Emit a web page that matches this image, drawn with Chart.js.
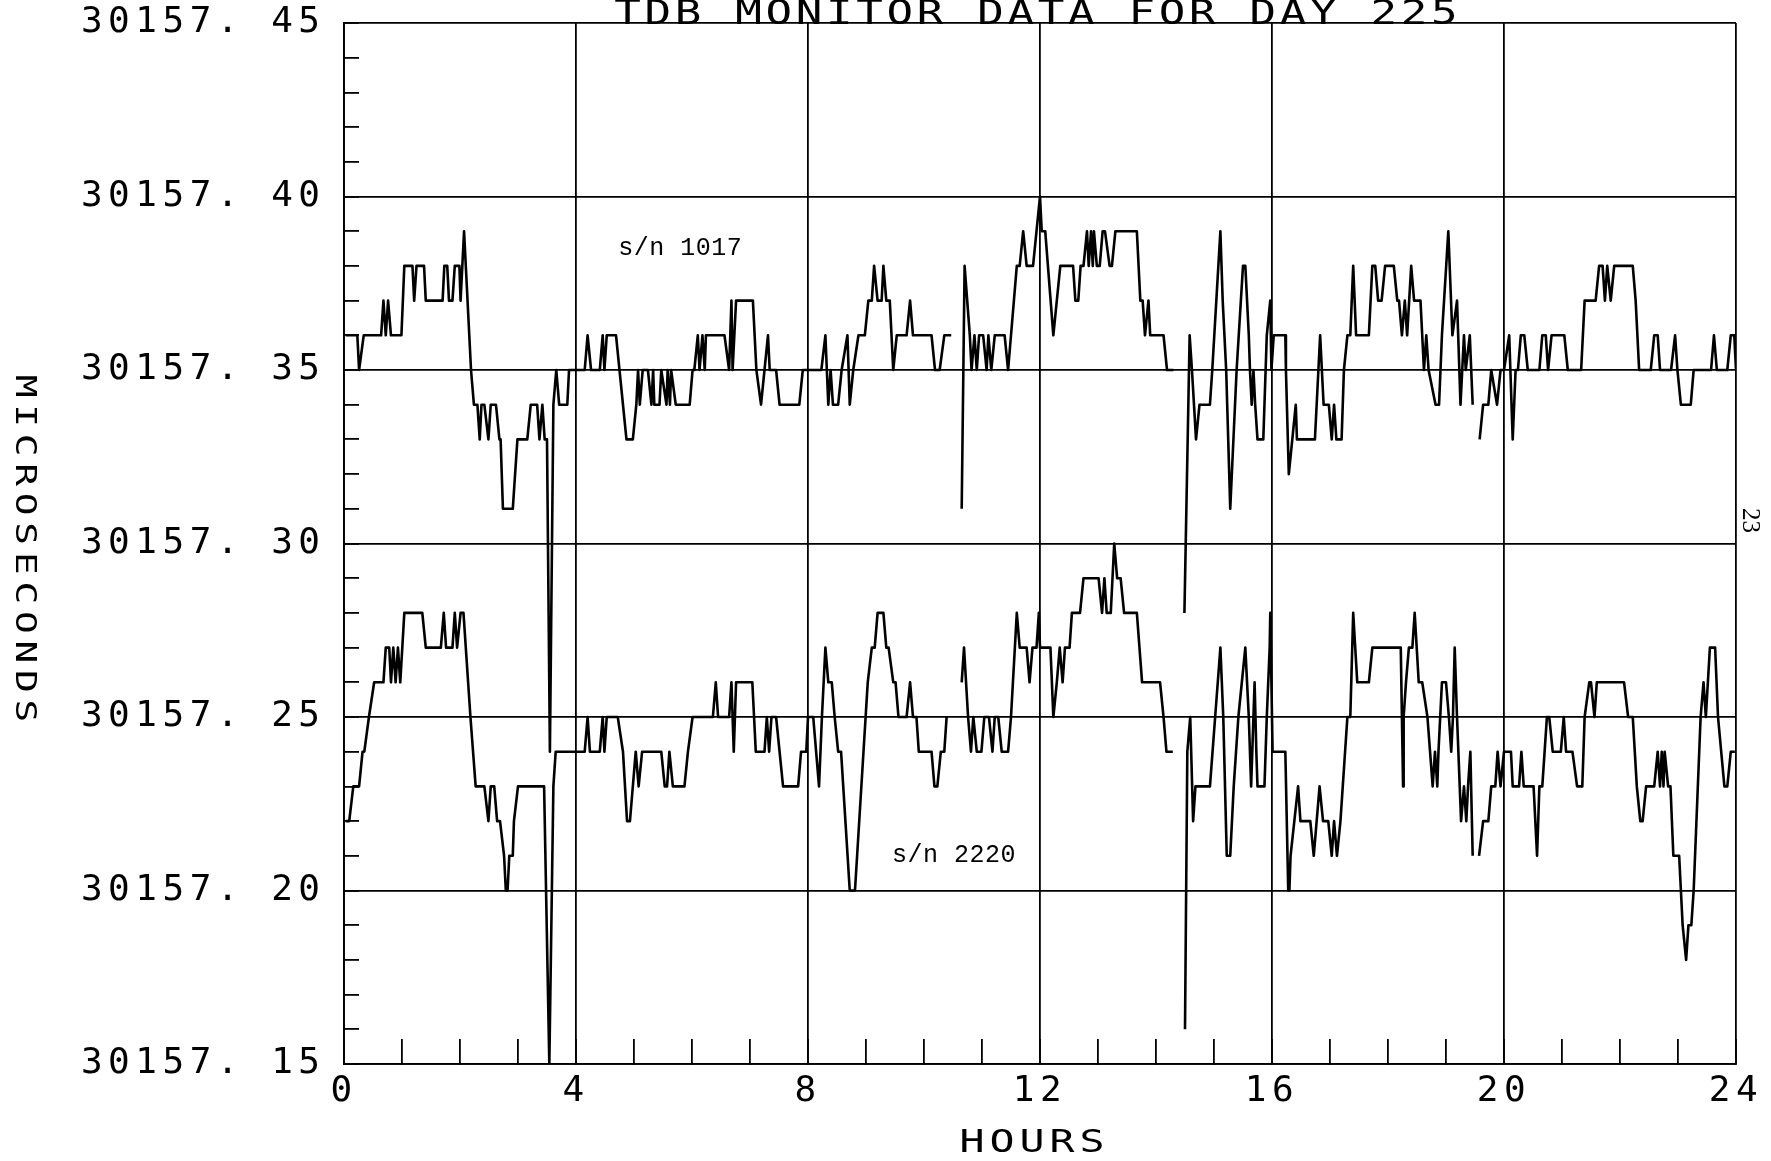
<!DOCTYPE html>
<html>
<head>
<meta charset="utf-8">
<title>TDB monitor data for day 225</title>
<script src="https://cdn.jsdelivr.net/npm/chart.js@4.4.1/dist/chart.umd.min.js"></script>
<style>
  html, body { margin: 0; padding: 0; background: #fff; }
  #sheet { position: relative; width: 1771px; height: 1161px; }
</style>
</head>
<body>
<div id="sheet"><canvas id="tdb" width="1771" height="1161"></canvas></div>
<script>
/* TDB monitor plot, day 225: two clocks (s/n 1017, s/n 2220), readings in
 * microseconds against hour of day. Pairs are [hour, reading]; a null
 * reading marks a break in the record. */

var TITLE = "TDB MONITOR DATA FOR DAY 225";
var X_TITLE = "HOURS";
var Y_TITLE = "MICROSECONDS";
var PAGE_NO = "23";

var X_MIN = 0, X_MAX = 24, X_STEP = 1, X_MAJOR = 4;
var Y_MIN = 30157.15, Y_MAX = 30157.45, Y_STEP = 0.01, Y_MAJOR = 0.05;

// series labels, placed in data units
var TAGS = [
  { text: "s/n 1017", hour: 4.73, value: 30157.385 },
  { text: "s/n 2220", hour: 9.45, value: 30157.210 }
];

var sn1017 = [
  [0.03,30157.36],[0.23,30157.36],[0.26,30157.35],[0.34,30157.36],[0.64,30157.36],[0.68,30157.37],
  [0.72,30157.36],[0.76,30157.37],[0.81,30157.36],[0.99,30157.36],[1.04,30157.38],[1.18,30157.38],
  [1.21,30157.37],[1.25,30157.38],[1.38,30157.38],[1.41,30157.37],[1.70,30157.37],[1.73,30157.38],
  [1.78,30157.38],[1.81,30157.37],[1.87,30157.37],[1.91,30157.38],[1.99,30157.38],[2.01,30157.37],
  [2.07,30157.39],[2.10,30157.38],[2.19,30157.35],[2.24,30157.34],[2.30,30157.34],[2.34,30157.33],
  [2.37,30157.34],[2.42,30157.34],[2.49,30157.33],[2.53,30157.34],[2.62,30157.34],[2.68,30157.33],
  [2.70,30157.33],[2.74,30157.31],[2.91,30157.31],[2.99,30157.33],[3.16,30157.33],[3.22,30157.34],
  [3.33,30157.34],[3.37,30157.33],[3.42,30157.34],[3.46,30157.33],[3.50,30157.33],[3.55,30157.24],
  [3.61,30157.34],[3.66,30157.35],[3.71,30157.34],[3.85,30157.34],[3.88,30157.35],[4.00,30157.35],
  [4.15,30157.35],[4.20,30157.36],[4.26,30157.35],[4.41,30157.35],[4.46,30157.36],[4.49,30157.35],
  [4.53,30157.36],[4.69,30157.36],[4.75,30157.35],[4.87,30157.33],[4.98,30157.33],[5.04,30157.34],
  [5.07,30157.35],[5.10,30157.34],[5.15,30157.35],[5.24,30157.35],[5.30,30157.34],[5.33,30157.35],
  [5.35,30157.34],[5.44,30157.34],[5.47,30157.35],[5.56,30157.34],[5.58,30157.35],[5.62,30157.34],
  [5.64,30157.35],[5.72,30157.34],[5.96,30157.34],[6.01,30157.35],[6.04,30157.35],[6.10,30157.36],
  [6.13,30157.35],[6.18,30157.36],[6.22,30157.35],[6.24,30157.36],[6.30,30157.36],[6.56,30157.36],
  [6.64,30157.35],[6.68,30157.37],[6.70,30157.35],[6.76,30157.37],[7.05,30157.37],[7.11,30157.35],
  [7.19,30157.34],[7.25,30157.35],[7.31,30157.36],[7.34,30157.35],[7.45,30157.35],[7.51,30157.34],
  [7.85,30157.34],[7.91,30157.35],[8.00,30157.35],
  [8.23,30157.35],[8.30,30157.36],[8.35,30157.34],[8.39,30157.35],[8.43,30157.34],[8.52,30157.34],
  [8.58,30157.35],[8.68,30157.36],[8.72,30157.34],[8.78,30157.35],[8.87,30157.36],[8.98,30157.36],
  [9.04,30157.37],[9.10,30157.37],[9.14,30157.38],[9.20,30157.37],[9.27,30157.37],[9.30,30157.38],
  [9.35,30157.37],[9.41,30157.37],[9.47,30157.35],[9.53,30157.36],[9.70,30157.36],[9.76,30157.37],
  [9.81,30157.36],[10.13,30157.36],[10.19,30157.35],[10.27,30157.35],[10.35,30157.36],[10.47,30157.36],
  [10.56,null],
  [10.65,30157.31],[10.70,30157.38],[10.79,30157.36],[10.82,30157.35],[10.87,30157.36],[10.91,30157.35],
  [10.95,30157.36],[11.02,30157.36],[11.08,30157.35],[11.11,30157.36],[11.16,30157.35],[11.22,30157.36],
  [11.39,30157.36],[11.45,30157.35],[11.60,30157.38],[11.65,30157.38],[11.71,30157.39],[11.77,30157.38],
  [11.88,30157.38],[11.94,30157.39],[12.00,30157.40],
  [12.03,30157.39],[12.09,30157.39],[12.23,30157.36],[12.35,30157.38],[12.57,30157.38],[12.61,30157.37],
  [12.66,30157.37],[12.70,30157.38],[12.75,30157.38],[12.81,30157.39],[12.84,30157.38],[12.88,30157.39],
  [12.91,30157.38],[12.93,30157.39],[12.98,30157.38],[13.03,30157.38],[13.08,30157.39],[13.12,30157.39],
  [13.20,30157.38],[13.24,30157.38],[13.30,30157.39],[13.67,30157.39],[13.73,30157.37],[13.77,30157.37],
  [13.81,30157.36],[13.87,30157.37],[13.90,30157.36],[14.13,30157.36],[14.19,30157.35],[14.30,30157.35],
  [14.39,null],
  [14.49,30157.28],[14.58,30157.36],[14.62,30157.35],[14.69,30157.33],[14.75,30157.34],[14.93,30157.34],
  [14.97,30157.35],[15.04,30157.37],[15.11,30157.39],[15.15,30157.37],[15.21,30157.35],[15.28,30157.31],
  [15.39,30157.35],[15.50,30157.38],[15.54,30157.38],[15.60,30157.36],[15.62,30157.35],[15.65,30157.34],
  [15.68,30157.35],[15.71,30157.34],[15.75,30157.33],[15.85,30157.33],[15.91,30157.36],[15.97,30157.37],
  [15.99,30157.35],[16.03,30157.36],[16.23,30157.36],[16.24,30157.35],[16.29,30157.32],[16.41,30157.34],
  [16.43,30157.33],[16.74,30157.33],[16.83,30157.36],[16.89,30157.34],[16.98,30157.34],[17.03,30157.33],
  [17.07,30157.34],[17.11,30157.33],[17.20,30157.33],[17.24,30157.35],[17.30,30157.36],[17.35,30157.36],
  [17.40,30157.38],[17.45,30157.36],[17.67,30157.36],[17.73,30157.38],[17.78,30157.38],[17.83,30157.37],
  [17.89,30157.37],[17.95,30157.38],[18.10,30157.38],[18.16,30157.37],[18.19,30157.37],[18.24,30157.36],
  [18.29,30157.37],[18.33,30157.36],[18.40,30157.38],[18.45,30157.37],[18.56,30157.37],[18.62,30157.35],
  [18.66,30157.36],[18.70,30157.35],[18.82,30157.34],[18.88,30157.34],[18.93,30157.36],[19.04,30157.39],
  [19.11,30157.36],[19.19,30157.37],[19.21,30157.36],[19.25,30157.34],[19.31,30157.36],[19.34,30157.35],
  [19.41,30157.36],[19.46,30157.34],
  [19.52,null],
  [19.58,30157.33],[19.64,30157.34],[19.73,30157.34],[19.78,30157.35],[19.88,30157.34],[19.94,30157.35],
  [20.00,30157.35],[20.09,30157.36],[20.15,30157.33],[20.20,30157.35],[20.24,30157.35],[20.29,30157.36],
  [20.35,30157.36],[20.41,30157.35],[20.61,30157.35],[20.66,30157.36],[20.72,30157.36],[20.76,30157.35],
  [20.82,30157.36],[21.04,30157.36],[21.10,30157.35],[21.33,30157.35],[21.39,30157.37],[21.58,30157.37],
  [21.64,30157.38],[21.70,30157.38],[21.74,30157.37],[21.78,30157.38],[21.84,30157.37],[21.90,30157.38],
  [22.22,30157.38],[22.27,30157.37],[22.33,30157.35],[22.53,30157.35],[22.59,30157.36],[22.65,30157.36],
  [22.69,30157.35],[22.88,30157.35],[22.95,30157.36],[22.99,30157.35],[23.05,30157.34],[23.22,30157.34],
  [23.27,30157.35],[23.57,30157.35],[23.62,30157.36],[23.67,30157.35],[23.85,30157.35],[23.91,30157.36],
  [23.97,30157.36],[24.00,30157.35]
];

var sn2220 = [
  [0.03,30157.22],[0.09,30157.22],[0.16,30157.23],[0.26,30157.23],[0.32,30157.24],[0.35,30157.24],
  [0.43,30157.25],[0.52,30157.26],[0.68,30157.26],[0.72,30157.27],[0.78,30157.27],[0.81,30157.26],
  [0.85,30157.27],[0.89,30157.26],[0.93,30157.27],[0.97,30157.26],[1.04,30157.28],[1.35,30157.28],
  [1.41,30157.27],[1.67,30157.27],[1.72,30157.28],[1.76,30157.27],[1.87,30157.27],[1.91,30157.28],
  [1.95,30157.27],[2.01,30157.28],[2.06,30157.28],[2.10,30157.27],[2.18,30157.25],[2.27,30157.23],
  [2.42,30157.23],[2.49,30157.22],[2.53,30157.23],[2.59,30157.23],[2.64,30157.22],[2.69,30157.22],
  [2.76,30157.21],[2.79,30157.20],[2.82,30157.20],[2.85,30157.21],[2.91,30157.21],[2.93,30157.22],
  [3.00,30157.23],[3.45,30157.23],[3.54,30157.15],[3.61,30157.23],[3.65,30157.24],[4.00,30157.24],
  [4.15,30157.24],[4.20,30157.25],[4.24,30157.24],[4.41,30157.24],[4.46,30157.25],[4.49,30157.24],
  [4.53,30157.25],[4.72,30157.25],[4.81,30157.24],[4.88,30157.22],[4.93,30157.22],[5.03,30157.24],
  [5.08,30157.23],[5.14,30157.24],[5.47,30157.24],[5.53,30157.23],[5.57,30157.23],[5.61,30157.24],
  [5.67,30157.23],[5.87,30157.23],[5.93,30157.24],[6.01,30157.25],[6.36,30157.25],[6.41,30157.26],
  [6.45,30157.25],[6.64,30157.25],[6.68,30157.26],[6.72,30157.24],[6.76,30157.26],[7.04,30157.26],
  [7.10,30157.24],[7.25,30157.24],[7.29,30157.25],[7.33,30157.24],[7.37,30157.25],[7.45,30157.25],
  [7.57,30157.23],[7.83,30157.23],[7.88,30157.24],[7.97,30157.24],[8.00,30157.25],
  [8.09,30157.25],[8.19,30157.23],[8.24,30157.25],[8.30,30157.27],[8.35,30157.26],[8.41,30157.26],
  [8.46,30157.25],[8.52,30157.24],[8.57,30157.24],[8.72,30157.20],[8.81,30157.20],[9.03,30157.26],
  [9.10,30157.27],[9.15,30157.27],[9.20,30157.28],[9.30,30157.28],[9.35,30157.27],[9.39,30157.27],
  [9.47,30157.26],[9.51,30157.26],[9.56,30157.25],[9.70,30157.25],[9.76,30157.26],[9.81,30157.25],
  [9.87,30157.25],[9.91,30157.24],[10.13,30157.24],[10.18,30157.23],[10.23,30157.23],[10.29,30157.24],
  [10.35,30157.24],[10.39,30157.25],
  [10.52,null],
  [10.65,30157.26],[10.69,30157.27],[10.76,30157.25],[10.81,30157.24],[10.85,30157.25],[10.91,30157.24],
  [10.99,30157.24],[11.04,30157.25],[11.12,30157.25],[11.18,30157.24],[11.22,30157.25],[11.28,30157.25],
  [11.34,30157.24],[11.45,30157.24],[11.50,30157.25],[11.60,30157.28],[11.65,30157.27],[11.77,30157.27],
  [11.82,30157.26],[11.87,30157.27],[11.94,30157.27],[11.98,30157.28],
  [12.00,30157.27],[12.18,30157.27],[12.23,30157.25],[12.29,30157.26],[12.34,30157.27],[12.39,30157.26],
  [12.43,30157.27],[12.51,30157.27],[12.55,30157.28],[12.69,30157.28],[12.75,30157.29],[13.01,30157.29],
  [13.07,30157.28],[13.11,30157.29],[13.15,30157.28],[13.22,30157.28],[13.28,30157.30],[13.33,30157.29],
  [13.39,30157.29],[13.45,30157.28],[13.67,30157.28],[13.76,30157.26],[14.07,30157.26],[14.13,30157.25],
  [14.18,30157.24],[14.29,30157.24],
  [14.40,null],
  [14.50,30157.16],[14.54,30157.24],[14.59,30157.25],[14.64,30157.22],[14.68,30157.23],[14.93,30157.23],
  [15.02,30157.25],[15.11,30157.27],[15.16,30157.25],[15.22,30157.21],[15.28,30157.21],[15.34,30157.23],
  [15.42,30157.25],[15.54,30157.27],[15.60,30157.25],[15.64,30157.23],[15.70,30157.26],[15.73,30157.24],
  [15.75,30157.23],[15.87,30157.23],[15.91,30157.25],[15.96,30157.27],
  [15.97,30157.28],[16.01,30157.24],[16.23,30157.24],[16.28,30157.20],[16.30,30157.20],[16.32,30157.21],
  [16.45,30157.23],[16.49,30157.22],[16.66,30157.22],[16.72,30157.21],[16.82,30157.23],[16.88,30157.22],
  [16.97,30157.22],[17.03,30157.21],[17.07,30157.22],[17.12,30157.21],[17.18,30157.22],[17.30,30157.25],
  [17.35,30157.25],[17.40,30157.28],[17.47,30157.26],[17.67,30157.26],[17.73,30157.27],[18.22,30157.27],
  [18.26,30157.23],[18.27,30157.25],[18.31,30157.26],[18.36,30157.27],[18.42,30157.27],[18.46,30157.28],
  [18.53,30157.26],[18.59,30157.26],[18.68,30157.25],[18.77,30157.23],[18.81,30157.24],[18.85,30157.23],
  [18.87,30157.24],[18.93,30157.26],[19.00,30157.26],[19.05,30157.25],[19.09,30157.24],[19.12,30157.25],
  [19.15,30157.27],[19.19,30157.25],[19.26,30157.22],[19.31,30157.23],[19.35,30157.22],[19.38,30157.23],
  [19.42,30157.24],[19.46,30157.21],
  [19.52,null],
  [19.57,30157.21],[19.64,30157.22],[19.73,30157.22],[19.78,30157.23],[19.85,30157.23],[19.89,30157.24],
  [19.94,30157.23],[20.00,30157.24],
  [20.12,30157.24],[20.15,30157.23],[20.26,30157.23],[20.30,30157.24],[20.34,30157.23],[20.51,30157.23],
  [20.57,30157.21],[20.61,30157.23],[20.66,30157.23],[20.74,30157.25],[20.78,30157.25],[20.84,30157.24],
  [20.98,30157.24],[21.03,30157.25],[21.07,30157.24],[21.18,30157.24],[21.26,30157.23],[21.35,30157.23],
  [21.39,30157.25],[21.47,30157.26],[21.50,30157.26],[21.56,30157.25],[21.60,30157.26],[22.07,30157.26],
  [22.14,30157.25],[22.22,30157.25],[22.29,30157.23],[22.35,30157.22],[22.39,30157.22],[22.45,30157.23],
  [22.59,30157.23],[22.65,30157.24],[22.69,30157.23],[22.72,30157.24],[22.75,30157.23],[22.77,30157.24],
  [22.83,30157.23],[22.87,30157.23],[22.92,30157.21],[23.02,30157.21],[23.05,30157.20],[23.08,30157.19],
  [23.14,30157.18],[23.18,30157.19],[23.23,30157.19],[23.27,30157.20],[23.39,30157.25],[23.44,30157.26],
  [23.48,30157.25],[23.55,30157.27],[23.64,30157.27],[23.69,30157.25],[23.80,30157.23],[23.85,30157.23],
  [23.91,30157.24],[23.98,30157.24]
];

var PLOT_FONT = "'DejaVu Sans Mono', monospace";
var INK = "#000";

function toPoints(pairs) {
  return pairs.map(function (p) { return { x: p[0], y: p[1] }; });
}
function majorY(v) { return Math.round(v / Y_STEP) % Math.round(Y_MAJOR / Y_STEP) === 0; }
function majorX(v) { return Math.round(v / X_STEP) % Math.round(X_MAJOR / X_STEP) === 0; }

/* keep the frame where the plotter put it: no extra room for label overhang */
function pinBox(w, h) {
  return function (s) {
    if (w !== null) s.width = w;
    if (h !== null) s.height = h;
    s.paddingLeft = s.paddingRight = s.paddingTop = s.paddingBottom = 0;
  };
}

/* white sheet + the wide plotter lettering used by the tick labels */
var paper = {
  id: "paper",
  beforeDraw: function (chart) {
    var ctx = chart.ctx;
    ctx.save();
    ctx.fillStyle = "#fff";
    ctx.fillRect(0, 0, chart.width, chart.height);
    ctx.restore();
    ctx.letterSpacing = "5.5px";
  }
};

/* plotter lettering: glyphs stretched sideways, drawn centred at (x, y) */
function plotText(ctx, text, x, y, size, stretch, spacing, angle) {
  ctx.save();
  ctx.translate(x, y);
  if (angle) ctx.rotate(angle);
  ctx.scale(stretch, 1);
  ctx.font = size + "px " + PLOT_FONT;
  ctx.letterSpacing = spacing + "px";
  ctx.fillText(text, spacing / 2, 0);
  ctx.restore();
}

/* title, axis titles, series tags and the page number */
var lettering = {
  id: "lettering",
  afterDraw: function (chart) {
    var ctx = chart.ctx, a = chart.chartArea;
    var xs = chart.scales.x, ys = chart.scales.y;
    var midX = (a.left + a.right) / 2, midY = (a.top + a.bottom) / 2;
    ctx.save();
    ctx.fillStyle = INK;
    ctx.textAlign = "center";

    // title runs off the top of the sheet, sitting on the frame
    ctx.textBaseline = "alphabetic";
    plotText(ctx, TITLE, midX - 4, a.top + 1, 34, 1.3, 2.8, 0);

    ctx.textBaseline = "middle";
    plotText(ctx, X_TITLE, midX - 8, a.bottom + 80, 32, 1.3, 3.8, 0);

    // y title reads downwards
    plotText(ctx, Y_TITLE, 23, midY + 5, 28, 1.35, 5, Math.PI / 2);

    ctx.letterSpacing = "0.5px";
    ctx.font = "25px 'Liberation Mono', monospace";
    ctx.textAlign = "left";
    TAGS.forEach(function (t) {
      ctx.fillText(t.text, xs.getPixelForValue(t.hour), ys.getPixelForValue(t.value));
    });

    ctx.save();
    ctx.translate(a.right + 14, midY - 23);
    ctx.rotate(Math.PI / 2);
    ctx.letterSpacing = "0px";
    ctx.font = "25px 'Liberation Serif', serif";
    ctx.textAlign = "center";
    ctx.fillText(PAGE_NO, 0, 0);
    ctx.restore();

    ctx.restore();
  }
};

function trace(label, pairs) {
  return {
    label: label,
    data: toPoints(pairs),
    borderColor: INK,
    borderWidth: 2.6,
    borderJoinStyle: "round",
    pointRadius: 0,
    tension: 0,
    fill: false,
    spanGaps: false
  };
}

new Chart(document.getElementById("tdb"), {
  type: "line",
  data: { datasets: [trace("s/n 1017", sn1017), trace("s/n 2220", sn2220)] },
  plugins: [paper, lettering],
  options: {
    responsive: false,
    devicePixelRatio: 1,
    animation: false,
    events: [],
    layout: { padding: { left: 0, right: 35, top: 23, bottom: 0 } },
    plugins: { legend: { display: false }, tooltip: { enabled: false }, title: { display: false } },
    scales: {
      x: {
        type: "linear", position: "bottom", min: X_MIN, max: X_MAX,
        afterFit: pinBox(null, 97),
        border: { display: true, color: INK, width: 1.8 },
        grid: {
          color: function (c) { return c.tick && majorX(c.tick.value) ? INK : "rgba(0,0,0,0)"; },
          lineWidth: 1.8, drawTicks: true, tickLength: -25, tickColor: INK, tickWidth: 1.8
        },
        ticks: {
          stepSize: X_STEP, autoSkip: false, maxRotation: 0, maxTicksLimit: 100,
          color: INK, padding: 31, font: { family: PLOT_FONT, size: 36 },
          callback: function (v) { return majorX(v) ? String(v) : ""; }
        }
      },
      y: {
        type: "linear", position: "left", min: Y_MIN, max: Y_MAX,
        afterFit: pinBox(344, null),
        border: { display: true, color: INK, width: 1.8 },
        grid: {
          color: function (c) { return c.tick && majorY(c.tick.value) ? INK : "rgba(0,0,0,0)"; },
          lineWidth: 1.8, drawTicks: true, tickLength: -15, tickColor: INK, tickWidth: 1.8
        },
        ticks: {
          stepSize: Y_STEP, autoSkip: false, maxTicksLimit: 100,
          color: INK, padding: 33.5, font: { family: PLOT_FONT, size: 36 },
          callback: function (v) { return majorY(v) ? v.toFixed(2).replace(".", ". ") : ""; }
        }
      }
    }
  }
});
</script>
</body>
</html>
